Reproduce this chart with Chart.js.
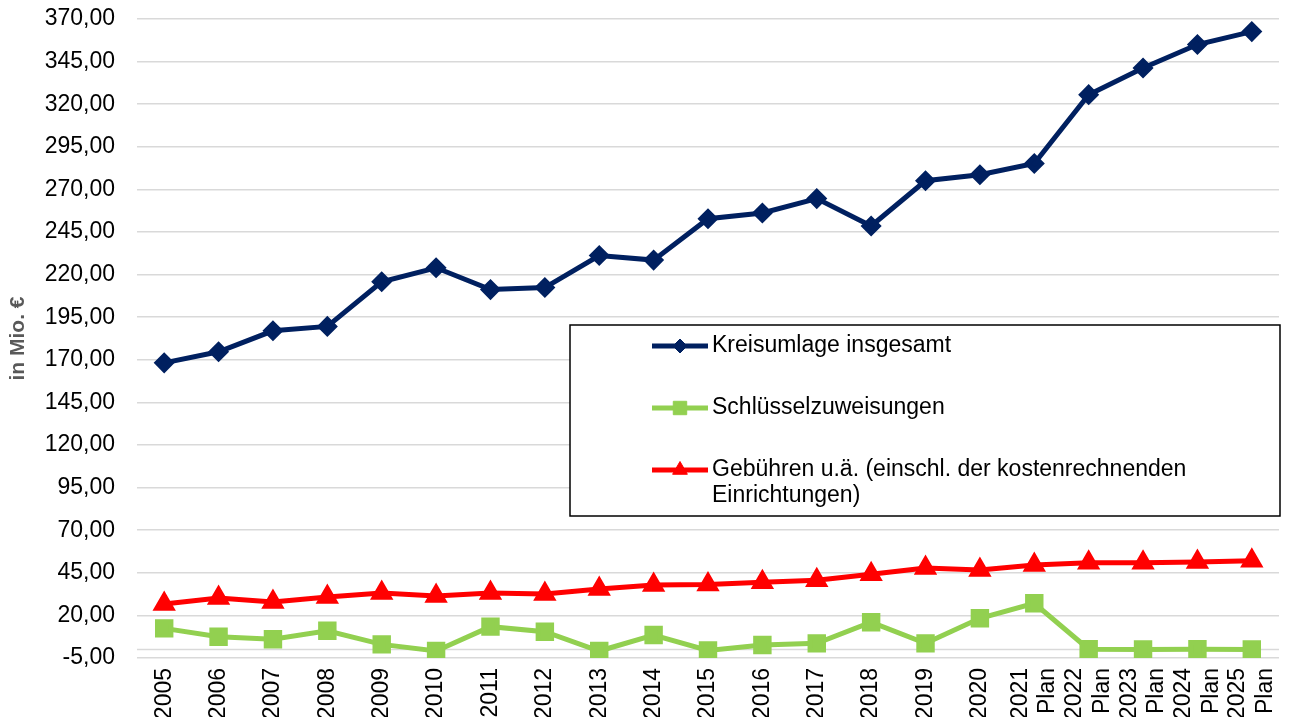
<!DOCTYPE html>
<html lang="de">
<head>
  <meta charset="UTF-8">
  <title>Kreisumlage, Schlüsselzuweisungen, Gebühren</title>
  <script src="https://cdn.jsdelivr.net/npm/chart.js"></script>
  <style>
    html, body { margin: 0; padding: 0; background: #fff; overflow: hidden; }
    #wrap { position: relative; width: 1295px; height: 717px; }
  </style>
</head>
<body>
  <div id="wrap"><canvas id="chart"></canvas></div>

  <script>
    // Kategorien (Jahre, ab 2021 Planwerte)
    const jahre = [
      '2005', '2006', '2007', '2008', '2009', '2010', '2011', '2012', '2013', '2014',
      '2015', '2016', '2017', '2018', '2019', '2020',
      ['2021', 'Plan'], ['2022', 'Plan'], ['2023', 'Plan'], ['2024', 'Plan'], ['2025', 'Plan']
    ];

    // Werte in Mio. €
    const kreisumlage = [168.2, 174.7, 187.0, 189.6, 215.8, 224.0, 211.2, 212.4, 231.2, 228.5,
      252.8, 256.2, 264.6, 248.5, 275.1, 278.6, 285.2, 325.6, 341.2, 355.0, 362.6];
    const schluessel = [12.4, 7.5, 6.0, 11.0, 3.0, -0.9, 13.4, 10.4, -0.9, 8.5,
      -0.6, 2.6, 3.6, 16.0, 3.6, 18.3, 27.1, 0.2, 0.0, 0.2, 0.0];
    const gebuehren = [26.7, 30.2, 27.9, 30.8, 33.2, 31.4, 33.2, 32.6, 35.5, 37.9,
      38.2, 39.4, 40.6, 44.2, 47.8, 46.7, 49.6, 50.9, 50.9, 51.4, 52.0];

    // Achse
    const yMin = -5, yMax = 370, yStep = 25;

    const fontFamily = '"Liberation Sans", Arial, sans-serif';

    // Nulllinie wie in Excel
    const zeroLine = {
      id: 'zeroLine',
      beforeDatasetsDraw(chart) {
        const { ctx, chartArea, scales } = chart;
        const y = scales.y.getPixelForValue(0);
        ctx.save();
        ctx.strokeStyle = '#d9d9d9';
        ctx.lineWidth = 1.5;
        ctx.beginPath();
        ctx.moveTo(chartArea.left, y);
        ctx.lineTo(chartArea.right, y);
        ctx.stroke();
        ctx.restore();
      }
    };

    // zweizeilige Achsenbeschriftungen mittig unter den Punkt setzen
    const centerMultiLine = {
      id: 'centerMultiLine',
      beforeDraw(chart) {
        const s = chart.scales.x;
        s.getLabelItems().forEach(it => {
          if (Array.isArray(it.label) && !it._centered) {
            it.options.translation[0] -= (it.label.length - 1) * it.font.lineHeight / 2;
            it._centered = true;
          }
        });
      }
    };

    // Legende im Kasten
    const boxLegend = {
      id: 'boxLegend',
      afterDraw(chart) {
        const { ctx } = chart;
        const box = { x: 570, y: 325, w: 710, h: 191 };
        ctx.save();
        ctx.fillStyle = '#fff';
        ctx.fillRect(box.x, box.y, box.w, box.h);
        ctx.strokeStyle = '#000';
        ctx.lineWidth = 1.5;
        ctx.strokeRect(box.x, box.y, box.w, box.h);

        const rows = [346, 408, 470];
        ctx.font = '23px ' + fontFamily;
        ctx.textBaseline = 'middle';
        chart.data.datasets.forEach((ds, i) => {
          const y = rows[i];
          ctx.strokeStyle = ds.borderColor;
          ctx.lineWidth = ds.borderWidth;
          ctx.beginPath();
          ctx.moveTo(652, y);
          ctx.lineTo(708, y);
          ctx.stroke();
          ctx.fillStyle = ds.pointBackgroundColor;
          ctx.strokeStyle = ds.pointBorderColor;
          ctx.lineWidth = 1;
          Chart.helpers.drawPoint(ctx, { pointStyle: ds.pointStyle, radius: ds.pointRadius, rotation: 0, borderWidth: 1 }, 680, y);

          // Text umbrechen
          ctx.fillStyle = '#000';
          const maxW = box.x + box.w - 712 - 10;
          const words = ds.label.split(' ');
          let line = '', ly = y;
          words.forEach(w => {
            const test = line ? line + ' ' + w : w;
            if (ctx.measureText(test).width > maxW && line) {
              ctx.fillText(line, 712, ly);
              line = w;
              ly += 26;
            } else {
              line = test;
            }
          });
          ctx.fillText(line, 712, ly);
        });
        ctx.restore();
      }
    };

    new Chart(document.getElementById('chart'), {
      type: 'line',
      data: {
        labels: jahre,
        datasets: [
          {
            label: 'Kreisumlage insgesamt',
            data: kreisumlage,
            borderColor: '#002060',
            borderWidth: 5,
            pointStyle: 'rectRot',
            pointRadius: 7,
            pointBackgroundColor: '#002060',
            pointBorderColor: '#002060',
            tension: 0
          },
          {
            label: 'Schlüsselzuweisungen',
            data: schluessel,
            borderColor: '#92d050',
            borderWidth: 5,
            pointStyle: 'rect',
            pointRadius: 9.5,
            pointBackgroundColor: '#92d050',
            pointBorderColor: '#92d050',
            tension: 0
          },
          {
            label: 'Gebühren u.ä. (einschl. der kostenrechnenden Einrichtungen)',
            data: gebuehren,
            borderColor: '#ff0000',
            borderWidth: 5,
            pointStyle: 'triangle',
            pointRadius: 8.5,
            pointBackgroundColor: '#ff0000',
            pointBorderColor: '#ff0000',
            tension: 0
          }
        ]
      },
      options: {
        responsive: true,
        maintainAspectRatio: false,
        animation: false,
        layout: { padding: { top: 19, right: 16, left: 0, bottom: 0 } },
        plugins: {
          legend: { display: false },
          tooltip: { enabled: false }
        },
        scales: {
          x: {
            offset: true,
            grid: { display: false },
            border: { display: false },
            ticks: {
              autoSkip: false,
              minRotation: 90,
              maxRotation: 90,
              padding: 2,
              color: '#000',
              font: { family: fontFamily, size: 23 }
            },
            afterFit: s => {
              s.height = 59;
              s.paddingLeft = 0;
              s.paddingRight = 0;
            }
          },
          y: {
            min: yMin,
            max: yMax,
            border: { display: false },
            grid: { color: '#d9d9d9', lineWidth: 1.5, drawTicks: true, tickLength: 22, tickColor: 'rgba(0,0,0,0)' },
            ticks: {
              stepSize: yStep,
              padding: 0,
              color: '#000',
              font: { family: fontFamily, size: 23 },
              callback: v => v.toFixed(2).replace('.', ',')
            },
            title: {
              display: true,
              text: 'in Mio. €',
              color: '#595959',
              padding: { top: 6, bottom: 0 },
              font: { family: fontFamily, size: 21, weight: 'bold' }
            },
            afterFit: s => { s.width = 137; }
          }
        }
      },
      plugins: [zeroLine, centerMultiLine, boxLegend]
    });
  </script>
</body>
</html>
